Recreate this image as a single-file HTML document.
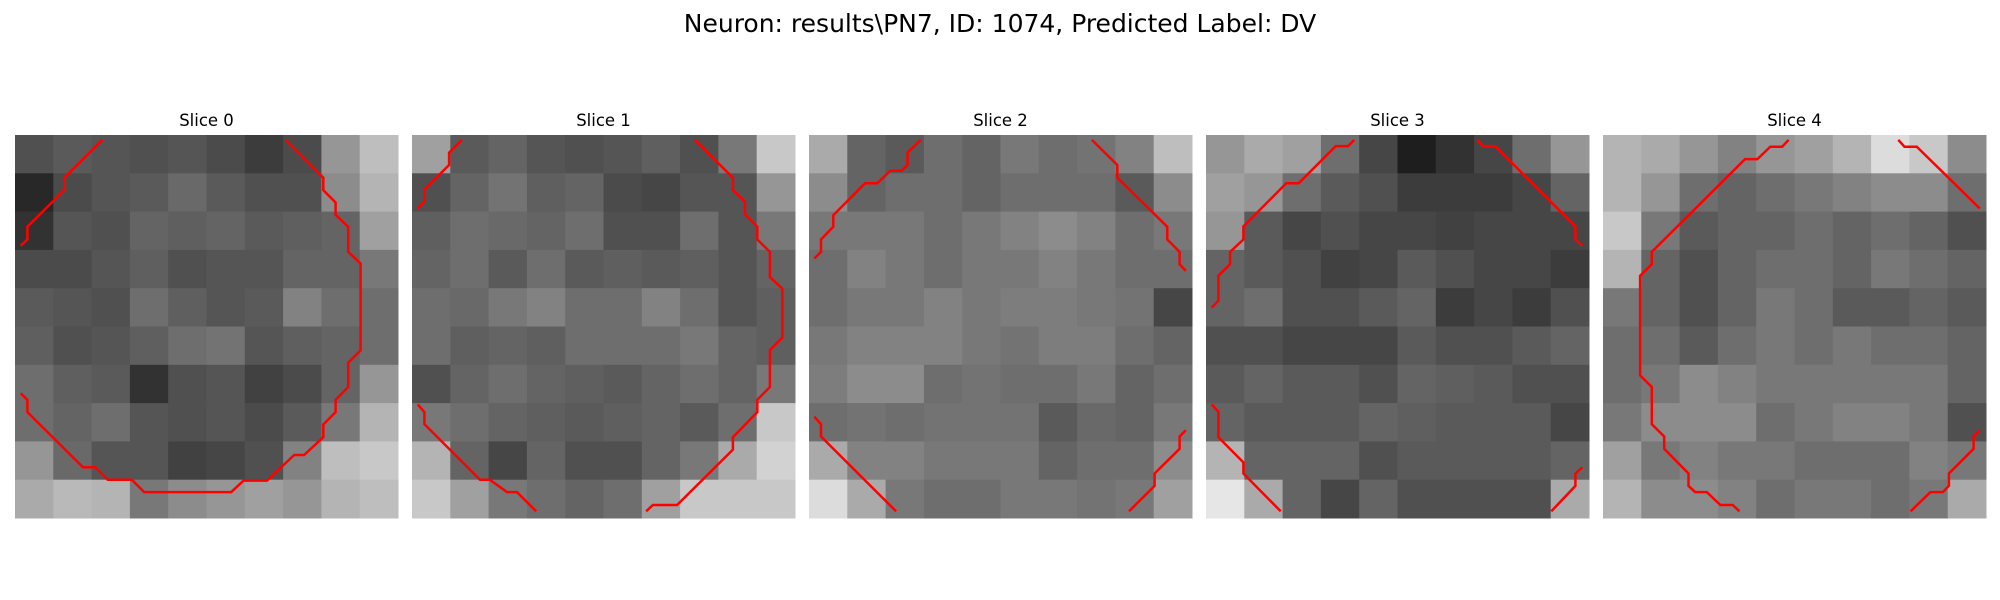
<!DOCTYPE html>
<html><head><meta charset="utf-8"><style>
html,body{margin:0;padding:0;background:#fff;width:2000px;height:600px;overflow:hidden}
svg text{font-family:"DejaVu Sans","Liberation Sans",sans-serif;fill:#000}
</style></head><body>
<svg id="fig" width="2000" height="600" viewBox="0 0 2000 600" xmlns="http://www.w3.org/2000/svg">
<text x="1000" y="32" font-size="25" text-anchor="middle">Neuron: results\PN7, ID: 1074, Predicted Label: DV</text>
</svg>
<script>
// coarse 10x10 intensity estimates per slice (0-255)
const slice0 = [
[80,90,85,80,85,75,60,75,150,190],[40,75,85,90,105,90,80,80,140,180],[50,85,80,100,95,100,90,95,100,160],
[75,75,85,95,80,85,85,100,100,120],[90,85,80,110,95,85,90,130,110,110],[95,80,85,95,110,115,85,95,100,110],
[110,95,90,50,80,85,65,75,100,150],[110,100,110,85,80,85,75,90,120,180],[150,105,85,85,65,70,80,130,190,200],
[170,185,180,120,140,150,160,150,180,190]];
const slice1 = [
[160,90,100,85,80,85,95,80,120,200],[80,100,115,95,100,75,70,85,85,150],[95,110,105,100,110,80,80,110,85,120],
[100,110,90,110,90,95,90,95,85,100],[110,105,120,130,110,110,130,110,85,95],[110,95,100,95,110,110,110,120,100,95],
[80,100,110,100,95,90,100,110,100,120],[120,110,100,95,90,95,100,90,110,200],[180,100,70,100,80,80,100,120,170,210],
[200,160,120,110,100,110,160,200,200,200]];
const slice2 = [
[170,100,90,110,100,120,110,115,130,190],[140,100,110,110,100,110,110,110,90,140],[120,120,120,110,120,130,140,130,110,120],
[110,130,120,110,120,120,130,120,110,110],[110,120,120,130,120,125,125,120,115,70],[120,130,130,130,120,115,125,125,110,100],
[125,140,140,110,115,110,110,120,100,110],[110,115,110,115,115,115,90,105,100,120],[170,130,130,120,120,120,100,110,110,140],
[220,170,120,110,110,120,120,115,120,160]];
const slice3 = [
[150,170,160,110,70,30,50,70,110,150],[160,150,110,90,80,60,60,60,70,100],[150,90,70,80,70,70,65,70,70,70],
[100,90,80,65,70,90,80,70,70,60],[100,110,80,80,90,100,60,70,60,80],[80,80,70,70,70,90,80,80,90,100],
[90,100,90,90,80,100,95,90,80,80],[100,90,90,90,100,95,90,90,90,70],[180,100,100,100,80,90,90,90,90,100],
[230,170,100,70,100,80,80,80,80,170]];
const slice4 = [
[180,170,150,130,150,160,180,220,200,140],[180,150,110,100,110,120,130,140,140,110],[200,120,90,100,100,110,100,110,100,80],
[180,100,80,100,110,110,100,120,110,100],[120,100,80,100,120,110,90,90,100,90],[110,110,90,110,120,110,120,110,110,100],
[110,120,140,130,120,120,120,120,120,100],[120,140,140,140,110,120,130,130,120,80],[160,120,130,120,120,110,110,110,130,120],
[180,140,140,130,110,120,120,110,120,170]];
const grids = [slice0, slice1, slice2, slice3, slice4];
const sliceLabels = ["Slice 0","Slice 1","Slice 2","Slice 3","Slice 4"];
// contour lines in image units (0..31), [x,y] pairs
const contours0 = [
[[7.08,0.38],[4,3.46],[4,4.46],[1,7.43],[1,8.46],[0.46,8.97]],
[[21.9,0.38],[24.95,3.46],[24.95,4.46],[25.95,5.46],[25.95,6.46],[26.97,7.43],[26.97,9.46],[27.97,10.4],[27.97,17.43],[26.97,18.43],[26.97,20.4],[25.95,21.43],[25.95,22.43],[24.95,23.43],[24.95,24.46],[23.4,25.9],[22.6,25.9],[20.4,27.97],[18.5,27.97],[17.5,28.9],[10.46,28.9],[9.46,27.9],[7.5,27.9],[6.5,26.9],[5.5,26.9],[1,22.43],[1,21.43],[0.46,20.9]]];
const contours1 = [
[[4.03,0.4],[3,1.43],[3,2.43],[1,4.4],[1,5.4],[0.46,5.95]],
[[22.9,0.4],[25.97,3.46],[25.97,4.46],[26.95,5.4],[26.95,6.43],[27.95,7.43],[27.95,8.46],[28.97,9.46],[28.97,11.5],[29.97,12.43],[29.97,16.4],[28.97,17.4],[28.97,20.4],[27.95,21.43],[27.95,22.43],[25.97,24.46],[25.97,25.46],[21.46,29.95],[19.5,29.95],[18.95,30.46]],
[[0.46,21.8],[1,22.43],[1,23.4],[5.5,27.9],[6.3,27.9],[7.7,28.9],[8.5,28.9],[10.05,30.46]]];
const contours2 = [
[[9.05,0.4],[7.97,1.43],[7.97,2.43],[7.5,2.9],[6.57,2.9],[5.54,3.9],[4.54,3.9],[1.97,6.5],[1.97,7.43],[0.97,8.46],[0.97,9.46],[0.43,10]],
[[22.9,0.4],[24.95,2.43],[24.95,3.46],[29,7.43],[29,8.46],[30,9.46],[30,10.46],[30.5,11]],
[[0.43,22.8],[0.97,23.4],[0.97,24.4],[7.05,30.46]],
[[25.9,30.46],[27.97,28.4],[27.97,27.4],[30,25.4],[30,24.4],[30.5,23.9]]];
const contours3 = [
[[12,0.4],[11.5,0.9],[10.5,0.9],[7.5,3.9],[6.5,3.9],[3.03,7.4],[3.03,8.46],[1.95,9.46],[1.95,10.46],[1,11.4],[1,13.4],[0.46,13.97]],
[[21.95,0.4],[22.4,0.9],[23.4,0.9],[29.9,7.4],[29.9,8.46],[30.46,8.97]],
[[0.46,21.8],[1,22.4],[1,24.46],[3.03,26.5],[3.03,27.4],[6.05,30.46]],
[[27.95,30.46],[29.9,28.4],[29.9,27.4],[30.46,26.9]]];
const contours4 = [
[[15.03,0.4],[14.5,0.95],[13.54,0.95],[12.5,1.95],[11.5,1.95],[3.95,9.46],[3.95,10.46],[3,11.4],[3,19.46],[3.95,20.4],[3.95,23.4],[4.95,24.4],[4.95,25.4],[6.92,27.4],[6.92,28.4],[7.46,28.9],[8.4,28.9],[9.5,29.95],[10.5,29.95],[11.05,30.46]],
[[23.9,0.4],[24.4,0.95],[25.4,0.95],[30.5,5.95]],
[[24.9,30.46],[26.5,28.9],[27.5,28.9],[28,28.4],[28,27.4],[30,25.4],[30,24.4],[30.5,23.9]]];
const contours = [contours0, contours1, contours2, contours3, contours4];

const NS = "http://www.w3.org/2000/svg";
const svg = document.getElementById("fig");
const panelLeft = [15, 412, 809, 1206, 1603];
const top0 = 135, size = 383, units = 31;
function sx(p, u){ return panelLeft[p] + u * size / units; }
function sy(v){ return top0 + v * size / units; }
function mk(tag, attrs){ const e = document.createElementNS(NS, tag); for (const k in attrs) e.setAttribute(k, attrs[k]); return e; }

grids.forEach((g, p) => {
  const grp = mk("g", {});
  
  
  svg.appendChild(grp);
  const n = g.length, bu = units / n;
  g.forEach((row, r) => row.forEach((val, c) => {
    const x0 = sx(p, c * bu), x1 = sx(p, (c + 1) * bu), y0 = sy(r * bu), y1 = sy((r + 1) * bu);
    const rect = mk("rect", {x: x0, y: y0, width: x1 - x0 + 0.5, height: y1 - y0 + 0.5, fill: `rgb(${val},${val},${val})`});
    
    
    grp.appendChild(rect);
  }));
  contours[p].forEach((line) => {
    const pts = line.map(([u, v]) => sx(p, u).toFixed(1) + "," + sy(v).toFixed(1)).join(" ");
    const pl = mk("polyline", {points: pts, fill: "none", stroke: "#ff0000", "stroke-width": 2.5, "stroke-linejoin": "miter"});
    
    
    grp.appendChild(pl);
  });
  const t = mk("text", {x: sx(p, units / 2), y: 126, "font-size": 16.5, "text-anchor": "middle"});
  t.textContent = sliceLabels[p];
  
  
  grp.appendChild(t);
});
</script>
</body></html>
